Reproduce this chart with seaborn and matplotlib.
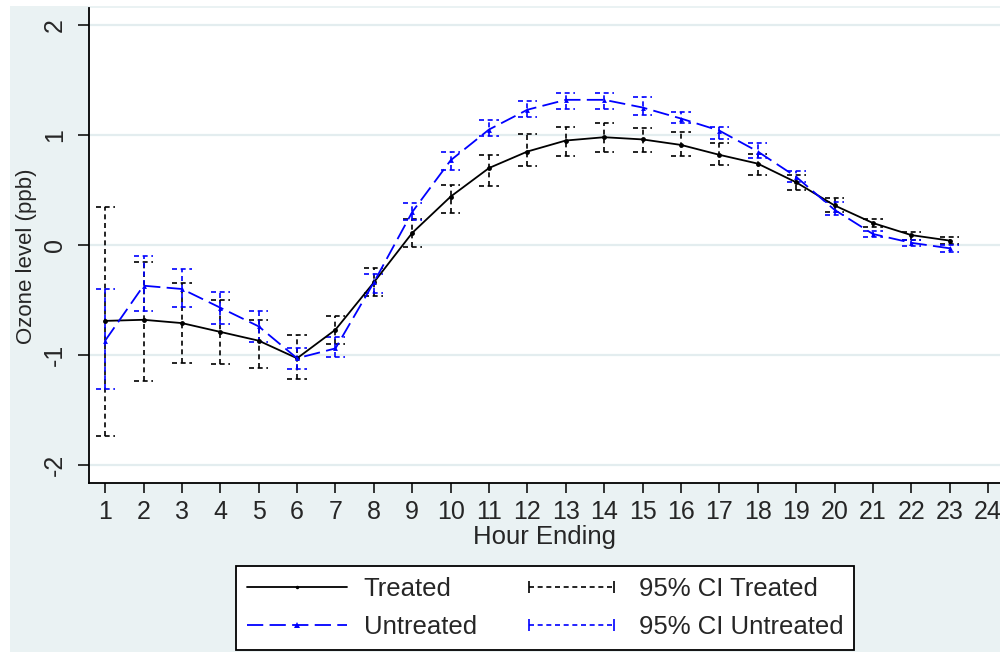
import matplotlib
matplotlib.use("Agg")
import matplotlib.pyplot as plt
import numpy as np
import pandas as pd
import seaborn as sns
from matplotlib.lines import Line2D
from matplotlib.patches import Rectangle
from matplotlib.legend_handler import HandlerLine2D

# ---------------- data ----------------
hours = list(range(1, 24))
x_ticks = list(range(1, 25))
y_ticks = [-2, -1, 0, 1, 2]

treated = [-0.69, -0.68, -0.71, -0.79, -0.87, -1.03, -0.77, -0.34, 0.11, 0.44,
           0.70, 0.85, 0.95, 0.98, 0.96, 0.91, 0.82, 0.74, 0.57, 0.36,
           0.20, 0.09, 0.04]
treated_hi = [0.35, -0.15, -0.35, -0.50, -0.68, -0.82, -0.65, -0.21, 0.24, 0.55,
              0.82, 1.01, 1.07, 1.11, 1.06, 1.03, 0.93, 0.83, 0.64, 0.43,
              0.24, 0.12, 0.07]
treated_lo = [-1.74, -1.24, -1.07, -1.08, -1.12, -1.22, -0.90, -0.46, -0.02, 0.29,
              0.54, 0.72, 0.81, 0.85, 0.85, 0.81, 0.73, 0.64, 0.50, 0.30,
              0.16, 0.05, 0.01]

untreated = [-0.87, -0.37, -0.40, -0.57, -0.74, -1.03, -0.94, -0.34, 0.30, 0.77,
             1.05, 1.23, 1.32, 1.32, 1.25, 1.15, 1.04, 0.85, 0.62, 0.32,
             0.10, 0.02, -0.03]
untreated_hi = [-0.40, -0.10, -0.22, -0.43, -0.60, -0.94, -0.84, -0.26, 0.38, 0.85,
                1.14, 1.31, 1.38, 1.38, 1.35, 1.21, 1.07, 0.93, 0.67, 0.39,
                0.13, 0.05, 0.00]
untreated_lo = [-1.31, -0.60, -0.56, -0.72, -0.88, -1.13, -1.02, -0.44, 0.23, 0.68,
                0.99, 1.16, 1.24, 1.24, 1.18, 1.11, 0.96, 0.79, 0.57, 0.27,
                0.07, -0.01, -0.06]

labels = ["Treated", "Untreated", "95% CI Treated", "95% CI Untreated"]
x_label = "Hour Ending"
y_label = "Ozone level (ppb)"

# ---------------- style ----------------
sns.set_theme(style="ticks")
plt.rcParams["font.family"] = ["Liberation Sans", "DejaVu Sans"]

BLUE = "#0000FF"
BLACK = "#000000"
BAND = "#EAF2F3"
GRID = "#E3EDEF"
FS_TICK = 18
FS_LEG = 18.5

fig = plt.figure(figsize=(10, 6.52), dpi=100, facecolor="white")
# light Stata-like graph region
fig.patches.append(Rectangle((0.010, 0.0), 0.99, 1 - 6 / 652, transform=fig.transFigure,
                             facecolor=BAND, edgecolor="none", zorder=-10))

ax = fig.add_axes([0.089, 1 - 483 / 652, 0.911, (483 - 8) / 652])
ax.set_facecolor("white")

# confidence intervals (dashed range caps)
ci_ls = (0, (3.0, 2.2))
cap = 0.25
h = np.array(hours, dtype=float)
ax.vlines(h, treated_lo, treated_hi, colors=BLACK, linestyles=[ci_ls], lw=1.2, zorder=2)
ax.hlines(treated_lo, h - cap, h + cap, colors=BLACK, linestyles=[ci_ls], lw=1.2, zorder=2)
ax.hlines(treated_hi, h - cap, h + cap, colors=BLACK, linestyles=[ci_ls], lw=1.2, zorder=2)
ax.vlines(h, untreated_lo, untreated_hi, colors=BLUE, linestyles=[ci_ls], lw=1.2, zorder=3)
ax.hlines(untreated_lo, h - cap, h + cap, colors=BLUE, linestyles=[ci_ls], lw=1.2, zorder=3)
ax.hlines(untreated_hi, h - cap, h + cap, colors=BLUE, linestyles=[ci_ls], lw=1.2, zorder=3)

df = pd.DataFrame({
    "Hour": hours + hours,
    "Ozone": treated + untreated,
    "Group": ["Treated"] * len(hours) + ["Untreated"] * len(hours),
})
sns.lineplot(data=df, x="Hour", y="Ozone", hue="Group", style="Group",
             palette={"Treated": BLACK, "Untreated": BLUE},
             dashes={"Treated": "", "Untreated": (9, 3.5)},
             markers={"Treated": "o", "Untreated": "^"},
             markersize=3.5, markeredgewidth=0, markeredgecolor="none",
             lw=1.3, legend=False, ax=ax, zorder=4)

ax.set_xlim(0.58, 24.31)
ax.set_ylim(-2.164, 2.155)
ax.set_xticks(x_ticks)
ax.set_yticks(y_ticks)
ax.set_yticklabels([str(v) for v in y_ticks], rotation=90, va="center")
ax.grid(axis="y", color=GRID, lw=1.6)
ax.grid(axis="x", visible=False)
ax.set_axisbelow(True)

for s in ["top", "right"]:
    ax.spines[s].set_visible(False)
for s in ["left", "bottom"]:
    ax.spines[s].set_color("black")
    ax.spines[s].set_linewidth(1.3)

ax.tick_params(axis="x", length=7, width=1.1, color="black", pad=5, labelsize=FS_TICK)
ax.tick_params(axis="y", length=8, width=1.1, color="black", pad=8, labelsize=FS_TICK)
ax.set_xlabel(x_label, fontsize=18.5, labelpad=1)
ax.set_ylabel(y_label, fontsize=16)
ax.yaxis.set_label_coords(-0.057, 0.478)

# legend
h1 = Line2D([], [], color=BLACK, lw=1.3, marker="o", ms=2.5, mew=0)
h2 = Line2D([], [], color=BLUE, lw=1.3, ls=(0, (9, 3.5)), marker="^", ms=4, mew=0)
h3 = Line2D([], [], color=BLACK, lw=1.2, ls=ci_ls, marker="|", ms=9, mew=1.2)
h4 = Line2D([], [], color=BLUE, lw=1.2, ls=ci_ls, marker="|", ms=9, mew=1.2)
leg = fig.legend([h1, h2, h3, h4], labels, ncol=2, loc="upper center",
                 bbox_to_anchor=(0.545, 1 - 566 / 652), fontsize=FS_LEG,
                 frameon=True, fancybox=False, shadow=False, framealpha=1,
                 handlelength=3.9, handletextpad=0.65, columnspacing=1.75,
                 labelspacing=0.55, borderpad=0.42, borderaxespad=0,
                 handler_map={h1: HandlerLine2D(numpoints=1), h2: HandlerLine2D(numpoints=1),
                              h3: HandlerLine2D(numpoints=2), h4: HandlerLine2D(numpoints=2)})
leg.get_frame().set_edgecolor("black")
leg.get_frame().set_linewidth(1.3)
leg.get_frame().set_facecolor("white")

fig.savefig("out.png", dpi=100, facecolor=fig.get_facecolor())
